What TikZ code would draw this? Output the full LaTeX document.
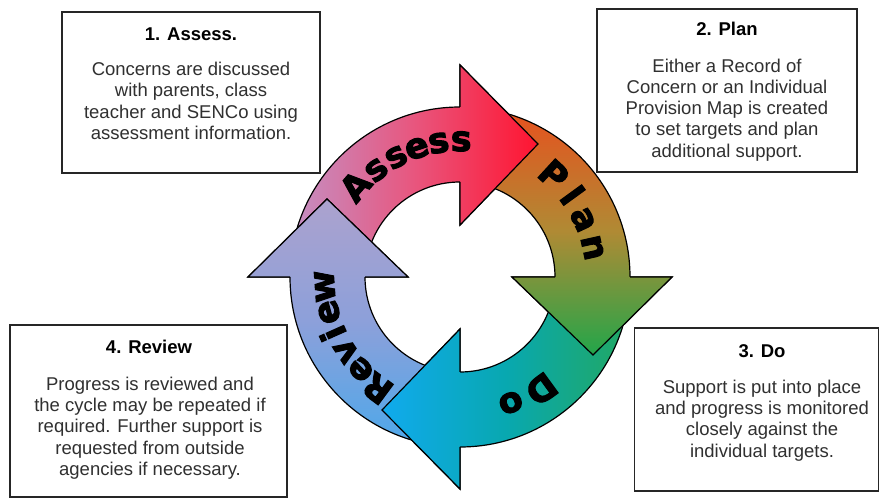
\documentclass[tikz,border=0pt]{standalone}
\usepackage{fontspec}
\setmainfont{Liberation Sans}
\newfontfamily\arcfont{DejaVu Sans Bold}[FakeBold=3]
\definecolor{txt}{HTML}{303030}
\definecolor{cA1}{HTML}{C490C4}
\definecolor{cA2}{HTML}{E8567E}
\definecolor{cA3}{HTML}{FF1430}
\definecolor{cP1}{HTML}{E8501E}
\definecolor{cP2}{HTML}{B08A34}
\definecolor{cP3}{HTML}{22A64A}
\definecolor{cD1}{HTML}{22A862}
\definecolor{cD2}{HTML}{08A8B0}
\definecolor{cD3}{HTML}{10AAEE}
\definecolor{cR1}{HTML}{4CA8EA}
\definecolor{cR2}{HTML}{8CA0DA}
\definecolor{cR3}{HTML}{ACA2CE}
\newcommand\tipxy[1]{({133*cos(#1)+78*sin(#1)},{133*sin(#1)-78*cos(#1)})}
\newcommand\arrowpath[1]{(#1+88:170) arc[start angle=#1+88, end angle=#1, radius=170] -- (#1:212) -- \tipxy{#1} -- (#1:52) -- (#1:95) arc[start angle=#1, end angle=#1+88, radius=95] -- cycle}
\newcommand\headtri[1]{(#1:212) -- \tipxy{#1} -- (#1:52) -- cycle}
\newcommand\headline[1]{(#1:170) -- (#1:212) -- \tipxy{#1} -- (#1:52) -- (#1:95)}
\begin{document}
\begin{tikzpicture}[x=1pt,y=1pt,
  box/.style={draw=black!85, line width=1.4pt, fill=white},
  ttl/.style={font=\fontsize{18.5}{21}\selectfont\bfseries, text=black, inner sep=0pt, anchor=base},
  bod/.style={font=\fontsize{18.5}{21.3}\selectfont, text=txt, inner sep=0pt, anchor=north, align=center},
  letter/.style={font=\arcfont\fontsize{35}{35}\selectfont, inner sep=0pt, anchor=base, text=black},
  outl/.style={draw=black, line width=1.2pt},
  shA/.style={left color=cA1, right color=cA3, middle color=cA2},
  shP/.style={top color=cP1, bottom color=cP3, middle color=cP2},
  shD/.style={right color=cD1, left color=cD3, middle color=cD2},
  shR/.style={bottom color=cR1, top color=cR3, middle color=cR2}]
\useasboundingbox (0,0) rectangle (880,500);
\fill[white] (0,0) rectangle (880,500);
% boxes
\node[box, minimum width=258pt, minimum height=161pt] (b1) at (191,407.5) {};
\node[box, minimum width=260pt, minimum height=163pt] (b2) at (727,409.5) {};
\node[box, minimum width=244pt, minimum height=163pt] (b3) at (756.5,90.5) {};
\node[box, minimum width=277pt, minimum height=172pt] (b4) at (148.5,89) {};
\node[ttl] (t1) at (191,459) {1. Assess.};
\node[bod] (d1) at (191,438) {Concerns are discussed\\with parents, class\\teacher and SENCo using\\assessment information.};
\node[ttl] (t2) at (727,464) {2. Plan};
\node[bod] (d2) at (727,441.5) {Either a Record of\\Concern or an Individual\\Provision Map is created\\to set targets and plan\\additional support.};
\node[ttl] (t3) at (762,142) {3. Do};
\node[bod] (d3) at (762,120.5) {Support is put into place\\and progress is monitored\\closely against the\\individual targets.};
\node[ttl] (t4) at (149,146) {4. Review};
\node[bod] (d4) at (150,123.5) {Progress is reviewed and\\the cycle may be repeated if\\required. Further support is\\requested from outside\\agencies if necessary.};
% cycle
\begin{scope}[shift={(460,223)}]
  \shadedraw[shA, outl] \arrowpath{90};
  \shadedraw[shP, outl] \arrowpath{0};
  \shadedraw[shD, outl] \arrowpath{-90};
  \shadedraw[shR, outl] \arrowpath{-180};
  \begin{scope}\clip \headtri{90}; \shade[shA] \arrowpath{90}; \end{scope}
  \draw[outl] \headline{90};
  \begin{scope}\clip \headtri{0}; \shade[shP] \arrowpath{0}; \end{scope}
  \draw[outl] \headline{0};
  \begin{scope}\clip \headtri{-90}; \shade[shD] \arrowpath{-90}; \end{scope}
  \draw[outl] \headline{-90};
  \begin{scope}\clip \headtri{-180}; \shade[shR] \arrowpath{-180}; \end{scope}
  \draw[outl] \headline{-180};
  \foreach \c/\a [count=\i] in {A/139, s/128, s/118, e/108.5, s/99, s/89.5}
    \node[letter, rotate=\a-90] (la\i) at (\a:126) {\c};
  \foreach \c/\a [count=\i] in {P/47.5, l/36, a/25, n/12.5}
    \node[letter, rotate=\a-90] (lp\i) at (\a:126) {\c};
  \foreach \c/\a [count=\i] in {D/-54, o/-68}
    \node[letter, rotate=\a-90] (ld\i) at (\a:126) {\c};
  \foreach \c/\a [count=\i] in {R/233.5, e/223, v/213, i/204, e/195, w/184}
    \node[letter, rotate=\a-90] (lr\i) at (\a:126) {\c};
\end{scope}
\end{tikzpicture}
\end{document}
